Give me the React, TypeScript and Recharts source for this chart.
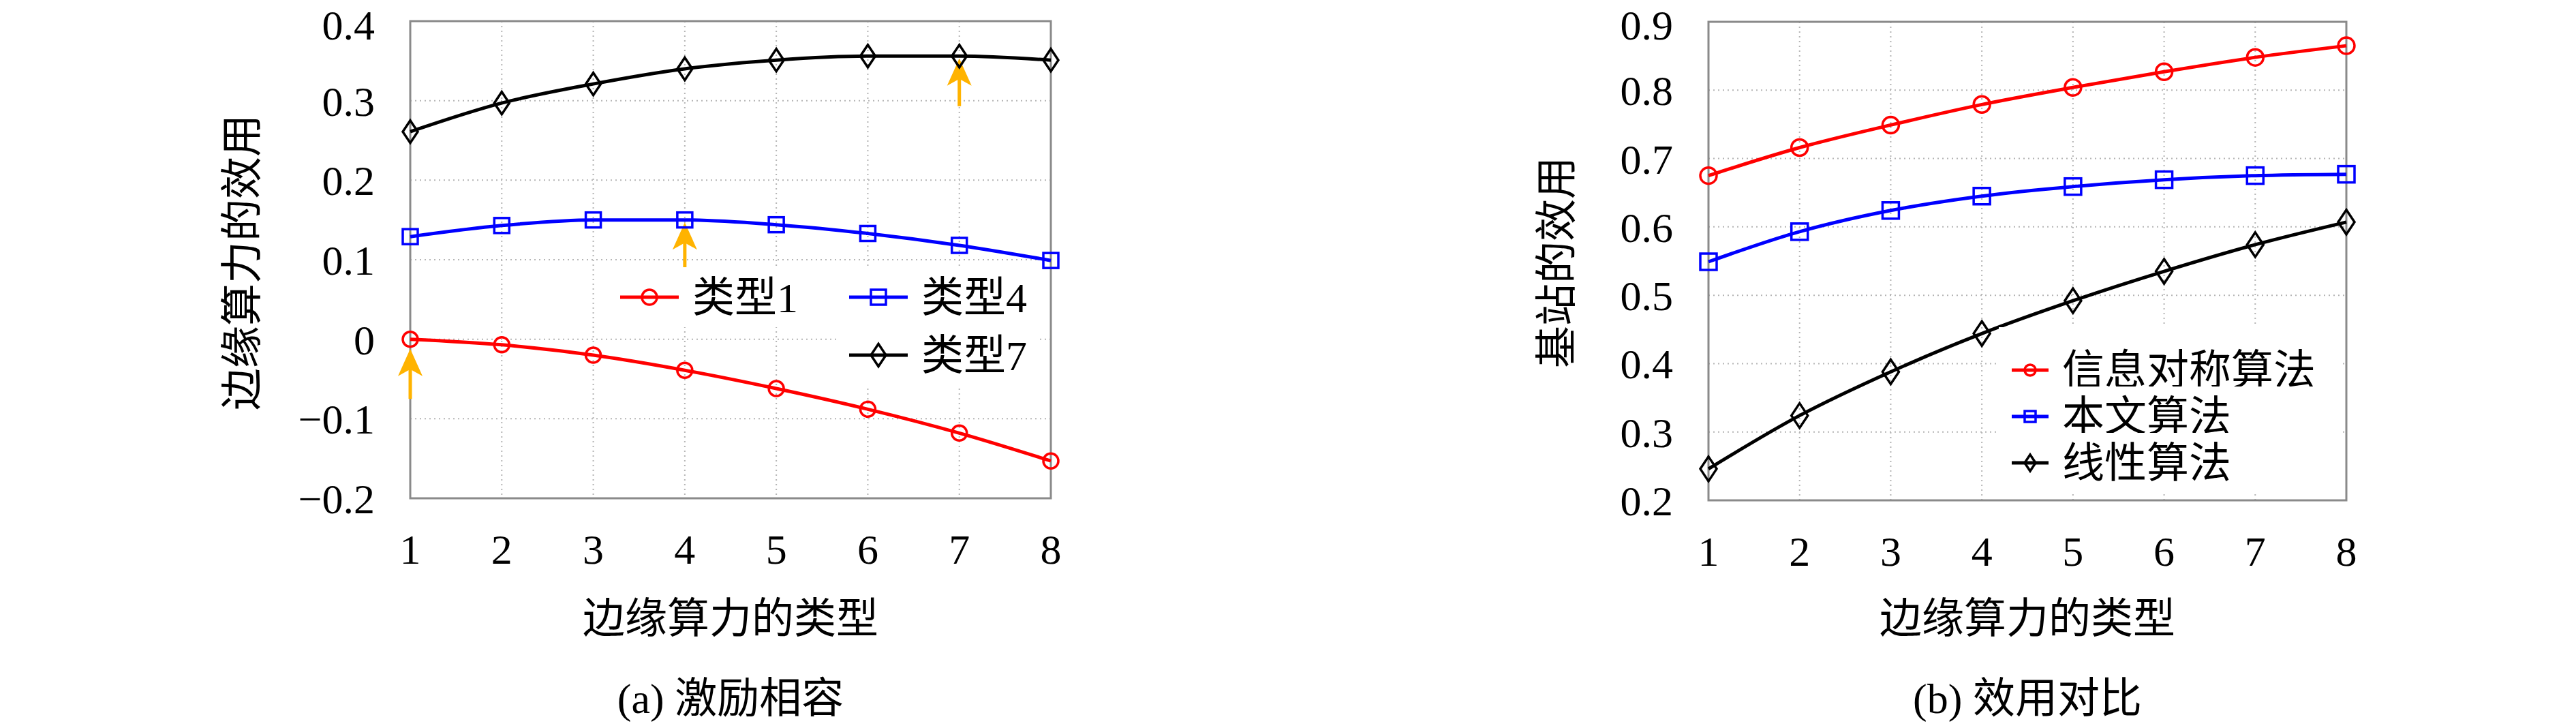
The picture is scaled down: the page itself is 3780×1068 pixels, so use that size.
import { LineChart, Line, XAxis, YAxis, CartesianGrid, ReferenceLine, ReferenceArea } from 'recharts';

const FONT = "'Liberation Serif', 'Noto Sans CJK SC', serif";

const types = [1, 2, 3, 4, 5, 6, 7, 8];

// (a) 激励相容
const type1 = [0.0, -0.007, -0.02, -0.039, -0.062, -0.088, -0.118, -0.153];
const type4 = [0.129, 0.143, 0.15, 0.15, 0.144, 0.133, 0.118, 0.099];
const type7 = [0.261, 0.297, 0.321, 0.34, 0.351, 0.356, 0.356, 0.351];
const ticksA = [-0.2, -0.1, 0, 0.1, 0.2, 0.3, 0.4];
const arrowsA = [
  { x: 1, from: -0.075, to: -0.012 },
  { x: 4, from: 0.089, to: 0.147 },
  { x: 7, from: 0.293, to: 0.353 },
];

// (b) 效用对比
const symmetric = [0.675, 0.716, 0.749, 0.779, 0.804, 0.827, 0.848, 0.865];
const proposed = [0.549, 0.593, 0.624, 0.645, 0.659, 0.669, 0.675, 0.677];
const linear = [0.246, 0.324, 0.388, 0.444, 0.492, 0.535, 0.574, 0.607];
const ticksB = [0.2, 0.3, 0.4, 0.5, 0.6, 0.7, 0.8, 0.9];

const dataA = types.map((t, i) => ({ t, s1: type1[i], s4: type4[i], s7: type7[i] }));
const dataB = types.map((t, i) => ({ t, sym: symmetric[i], ours: proposed[i], lin: linear[i] }));

type Kind = 'circle' | 'square' | 'diamond';

const Marker = ({ kind, cx, cy, color, s }: { kind: Kind; cx: number; cy: number; color: string; s: number }) => {
  if (kind === 'circle')
    return <circle cx={cx} cy={cy} r={s} fill="none" stroke={color} strokeWidth={3.5} />;
  if (kind === 'square')
    return <rect x={cx - s} y={cy - s} width={2 * s} height={2 * s} fill="none" stroke={color} strokeWidth={3.5} />;
  return (
    <polygon
      points={`${cx},${cy - s * 1.5} ${cx + s},${cy} ${cx},${cy + s * 1.5} ${cx - s},${cy}`}
      fill="none"
      stroke={color}
      strokeWidth={3.5}
    />
  );
};

const Arrow = (p: any) => {
  const { x1, y1, x2, y2 } = p;
  const c = '#ffb300';
  return (
    <g>
      <line x1={x1} y1={y1} x2={x2} y2={y2 + 25} stroke={c} strokeWidth={5} />
      <polygon points={`${x2},${y2} ${x2 - 18},${y2 + 40} ${x2},${y2 + 30} ${x2 + 18},${y2 + 40}`} fill={c} />
    </g>
  );
};

const fmt = (v: number) => (v === 0 ? '0' : v < 0 ? '\u2212' + Math.abs(v).toFixed(1) : v.toFixed(1));

interface SeriesDef {
  key: string;
  name: string;
  color: string;
  kind: Kind;
}

interface PanelProps {
  left: number;
  data: any[];
  series: SeriesDef[];
  domain: [number, number];
  ticks: number[];
  margin: { top: number; left: number; right: number; bottom: number };
  yTitle: string;
  yTitleX: number;
  caption: string;
  dotSize: number;
  arrows?: { x: number; from: number; to: number }[];
  legend: React.ReactNode;
}

const Panel = ({ left, data, series, domain, ticks, margin, yTitle, yTitleX, caption, dotSize, arrows, legend }: PanelProps) => {
  const plotLeft = margin.left + 180;
  const plotRight = 1700 - margin.right;
  const center = (plotLeft + plotRight) / 2;
  return (
    <div style={{ position: 'absolute', left, top: 0, width: 1700, height: 1068 }}>
      <LineChart width={1700} height={1068} data={data} margin={margin}>
        <CartesianGrid stroke="#b5b5b5" strokeWidth={2} strokeDasharray="2 5" />
        <XAxis
          dataKey="t"
          type="number"
          domain={[1, 8]}
          ticks={types}
          tickLine={false}
          axisLine={false}
          tickSize={0}
          tickMargin={52}
          height={120}
          tick={{ fontSize: 62, fill: '#000', fontFamily: FONT }}
        />
        <YAxis
          type="number"
          domain={domain}
          ticks={ticks}
          tickFormatter={fmt}
          tickLine={false}
          axisLine={false}
          tickSize={0}
          tickMargin={52}
          width={180}
          tick={{ fontSize: 62, fill: '#000', fontFamily: FONT }}
        />
        <ReferenceArea x1={1} x2={8} y1={domain[0]} y2={domain[1]} fill="none" stroke="#8a8a8a" strokeWidth={3} />
        {series.map((s) => (
          <Line
            key={s.key}
            dataKey={s.key}
            name={s.name}
            type="monotone"
            stroke={s.color}
            strokeWidth={5}
            isAnimationActive={false}
            dot={(p: any) => <Marker key={`${s.key}-${p.index}`} kind={s.kind} cx={p.cx} cy={p.cy} color={s.color} s={dotSize} />}
          />
        ))}
        {(arrows || []).map((a) => (
          <ReferenceLine
            key={`arrow-${a.x}`}
            segment={[
              { x: a.x, y: a.from },
              { x: a.x, y: a.to },
            ]}
            shape={Arrow}
          />
        ))}
      </LineChart>
      {legend}
      <div
        style={{
          position: 'absolute',
          left: yTitleX - 300,
          top: 385 - 40,
          width: 600,
          height: 80,
          lineHeight: '80px',
          textAlign: 'center',
          transform: 'rotate(-90deg)',
          fontSize: 62,
          fontFamily: FONT,
          color: '#000',
        }}
      >
        {yTitle}
      </div>
      <div
        style={{
          position: 'absolute',
          left: center - 400,
          top: 908 - 40,
          width: 800,
          height: 80,
          lineHeight: '80px',
          textAlign: 'center',
          fontSize: 62,
          fontFamily: FONT,
          color: '#000',
        }}
      >
        边缘算力的类型
      </div>
      <div
        style={{
          position: 'absolute',
          left: center - 400,
          top: 1025 - 40,
          width: 800,
          height: 80,
          lineHeight: '80px',
          textAlign: 'center',
          fontSize: 62,
          fontFamily: FONT,
          color: '#000',
        }}
      >
        {caption}
      </div>
    </div>
  );
};

const seriesA: SeriesDef[] = [
  { key: 's1', name: '类型1', color: '#ff0000', kind: 'circle' },
  { key: 's4', name: '类型4', color: '#0000ff', kind: 'square' },
  { key: 's7', name: '类型7', color: '#000000', kind: 'diamond' },
];

const seriesB: SeriesDef[] = [
  { key: 'sym', name: '信息对称算法', color: '#ff0000', kind: 'circle' },
  { key: 'ours', name: '本文算法', color: '#0000ff', kind: 'square' },
  { key: 'lin', name: '线性算法', color: '#000000', kind: 'diamond' },
];

const LegendEntry = ({ s, x, y, lineLen, size, bg }: { s: SeriesDef; x: number; y: number; lineLen: number; size: number; bg: number }) => (
  <g>
    <rect x={x - 14} y={y - 44} width={bg} height={88} fill="#fff" />
    <line x1={x} y1={y} x2={x + lineLen} y2={y} stroke={s.color} strokeWidth={5} />
    <Marker kind={s.kind} cx={x + lineLen / 2} cy={y} color={s.color} s={size} />
    <text x={x + lineLen + 20} y={y} dy="0.35em" fontSize={62} fontFamily={FONT} fill="#000">
      {s.name}
    </text>
  </g>
);

const legendA = (
  <svg style={{ position: 'absolute', left: 0, top: 0 }} width={1700} height={1068}>
    <LegendEntry s={seriesA[0]} x={910} y={436} lineLen={86} size={11} bg={300} />
    <LegendEntry s={seriesA[1]} x={1246} y={436} lineLen={86} size={11} bg={290} />
    <LegendEntry s={seriesA[2]} x={1246} y={521} lineLen={86} size={11} bg={290} />
  </svg>
);

const legendB = (
  <svg style={{ position: 'absolute', left: 0, top: 0 }} width={1700} height={1068}>
    <rect x={1043} y={480} width={502} height={236} fill="#fff" />
    <LegendEntry s={seriesB[0]} x={1062} y={543} lineLen={54} size={8} bg={480} />
    <LegendEntry s={seriesB[1]} x={1062} y={611} lineLen={54} size={8} bg={480} />
    <LegendEntry s={seriesB[2]} x={1062} y={679} lineLen={54} size={8} bg={480} />
  </svg>
);

export default function App() {
  return (
    <div style={{ position: 'absolute', left: 0, top: 0, width: 3780, height: 1068, background: '#fff', overflow: 'hidden' }}>
      <Panel
        left={0}
        data={dataA}
        series={seriesA}
        domain={[-0.2, 0.4]}
        ticks={ticksA}
        margin={{ top: 31, left: 422, right: 158, bottom: 217 }}
        yTitle="边缘算力的效用"
        yTitleX={356}
        caption="(a) 激励相容"
        dotSize={11}
        arrows={arrowsA}
        legend={legendA}
      />
      <Panel
        left={1890}
        data={dataB}
        series={seriesB}
        domain={[0.2, 0.9]}
        ticks={ticksB}
        margin={{ top: 32, left: 437, right: 147, bottom: 214 }}
        yTitle="基站的效用"
        yTitleX={395}
        caption="(b) 效用对比"
        dotSize={12}
        legend={legendB}
      />
    </div>
  );
}
